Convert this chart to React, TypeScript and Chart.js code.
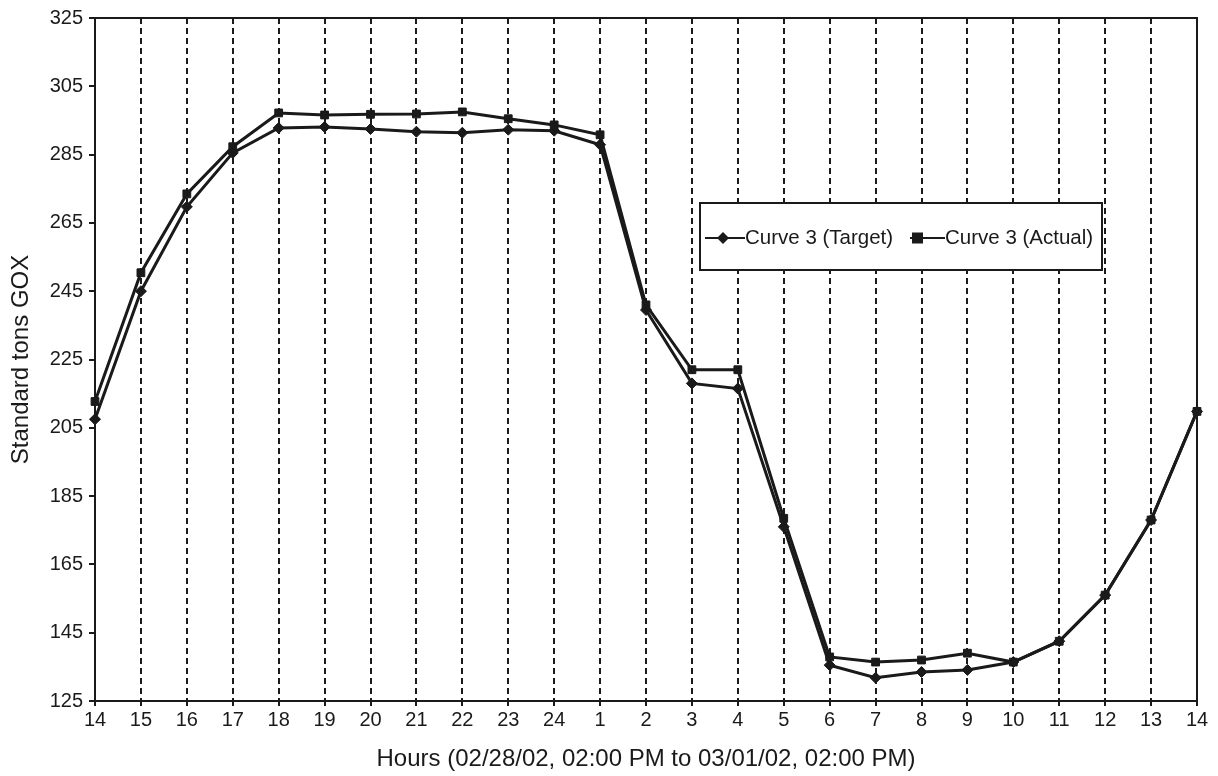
import React, { useEffect, useRef } from "react";
import { Chart, registerables } from "chart.js";

Chart.register(...registerables);

const hourLabels = ["14","15","16","17","18","19","20","21","22","23","24","1","2","3","4","5","6","7","8","9","10","11","12","13","14"];
const targetValues = [207.5, 245, 269.7, 285.5, 292.8, 293.1, 292.5, 291.7, 291.4, 292.3, 292, 287.9, 239.5, 218, 216.5, 176, 135.5, 131.8, 133.5, 134.1, 136.4, 142.5, 156, 178, 209.8];
const actualValues = [212.7, 250.4, 273.5, 287.3, 297.2, 296.6, 296.8, 296.9, 297.5, 295.5, 293.7, 290.8, 241, 222, 222, 178.5, 137.9, 136.4, 137, 139, 136.4, 142.5, 156, 178, 209.8];
const yTicks = [125, 145, 165, 185, 205, 225, 245, 265, 285, 305, 325];
const seriesNames = ["Curve 3 (Target)", "Curve 3 (Actual)"];
const xTitle = "Hours (02/28/02, 02:00 PM to 03/01/02, 02:00 PM)";
const yTitle = "Standard tons GOX";

const FONT = "'Liberation Sans', Arial, sans-serif";
const INK = "#1a1a1a";

const framePlugin = {
  id: "frame",
  afterDraw(chart: any) {
    const { ctx, chartArea } = chart;
    ctx.save();
    ctx.strokeStyle = INK;
    ctx.lineWidth = 2;
    ctx.setLineDash([]);
    ctx.strokeRect(chartArea.left, chartArea.top, chartArea.right - chartArea.left, chartArea.bottom - chartArea.top);
    ctx.restore();
  },
};

const legendPlugin = {
  id: "boxLegend",
  afterDraw(chart: any) {
    const { ctx } = chart;
    const x0 = 700, y0 = 203, x1 = 1102, y1 = 270;
    ctx.save();
    ctx.fillStyle = "#fff";
    ctx.fillRect(x0, y0, x1 - x0, y1 - y0);
    ctx.strokeStyle = INK;
    ctx.lineWidth = 2;
    ctx.setLineDash([]);
    ctx.strokeRect(x0, y0, x1 - x0, y1 - y0);
    const cy = 238;
    ctx.font = `20.5px ${FONT}`;
    ctx.fillStyle = INK;
    ctx.textBaseline = "middle";
    // Target item
    ctx.beginPath();
    ctx.moveTo(705, cy);
    ctx.lineTo(745, cy);
    ctx.stroke();
    ctx.beginPath();
    ctx.moveTo(723, cy - 6);
    ctx.lineTo(729, cy);
    ctx.lineTo(723, cy + 6);
    ctx.lineTo(717, cy);
    ctx.closePath();
    ctx.fill();
    ctx.fillText(seriesNames[0], 745, cy);
    // Actual item
    ctx.beginPath();
    ctx.moveTo(910, cy);
    ctx.lineTo(945, cy);
    ctx.stroke();
    ctx.fillRect(912, cy - 5.5, 11, 11);
    ctx.fillText(seriesNames[1], 945, cy);
    ctx.restore();
  },
};

export default function App() {
  const ref = useRef<HTMLCanvasElement>(null);
  useEffect(() => {
    document.body.style.margin = "0";
    const canvas = ref.current!;
    const chart = new Chart(canvas, {
      type: "line",
      data: {
        labels: hourLabels,
        datasets: [
          {
            label: seriesNames[0],
            data: targetValues,
            borderColor: INK,
            backgroundColor: INK,
            borderWidth: 3,
            pointStyle: "rectRot",
            pointRadius: 5.5,
            pointBorderWidth: 1,
            tension: 0,
          },
          {
            label: seriesNames[1],
            data: actualValues,
            borderColor: INK,
            backgroundColor: INK,
            borderWidth: 3,
            pointStyle: "rect",
            pointRadius: 5.5,
            pointBorderWidth: 1,
            tension: 0,
          },
        ],
      },
      options: {
        animation: false,
        responsive: false,
        layout: { padding: { top: 17, right: 21, left: 0, bottom: 0 } },
        plugins: {
          legend: { display: false },
          tooltip: { enabled: false },
        },
        scales: {
          x: {
            offset: false,
            grid: {
              drawOnChartArea: true,
              drawTicks: true,
              tickLength: 5,
              tickColor: INK,
              tickWidth: 2,
              color: (c: any) => (c.index === 0 || c.index === hourLabels.length - 1 ? "rgba(0,0,0,0)" : INK),
              lineWidth: 2,
            },
            border: { display: true, color: INK, width: 2, dash: [6, 4] },
            ticks: {
              color: INK,
              font: { family: FONT, size: 20 },
              padding: 2,
              maxRotation: 0,
              autoSkip: false,
            },
            title: {
              display: true,
              text: xTitle,
              color: INK,
              font: { family: FONT, size: 24 },
              padding: { top: 0, bottom: 2 },
            },
            afterFit: (s: any) => {
              s.height = 75;
            },
          },
          y: {
            min: 125,
            max: 325,
            afterBuildTicks: (s: any) => {
              s.ticks = yTicks.map((v) => ({ value: v }));
            },
            grid: {
              drawOnChartArea: false,
              drawTicks: true,
              tickLength: 6,
              color: INK,
              lineWidth: 2,
            },
            border: { display: true, color: INK, width: 2 },
            ticks: {
              color: INK,
              font: { family: FONT, size: 20 },
              padding: 6,
            },
            title: {
              display: true,
              text: yTitle,
              color: INK,
              font: { family: FONT, size: 24 },
              padding: { top: 7, bottom: 0 },
            },
            afterFit: (s: any) => {
              s.width = 95;
            },
          },
        },
      },
      plugins: [framePlugin, legendPlugin],
    });
    return () => chart.destroy();
  }, []);
  return <canvas ref={ref} width={1218} height={776} style={{ display: "block" }} />;
}
